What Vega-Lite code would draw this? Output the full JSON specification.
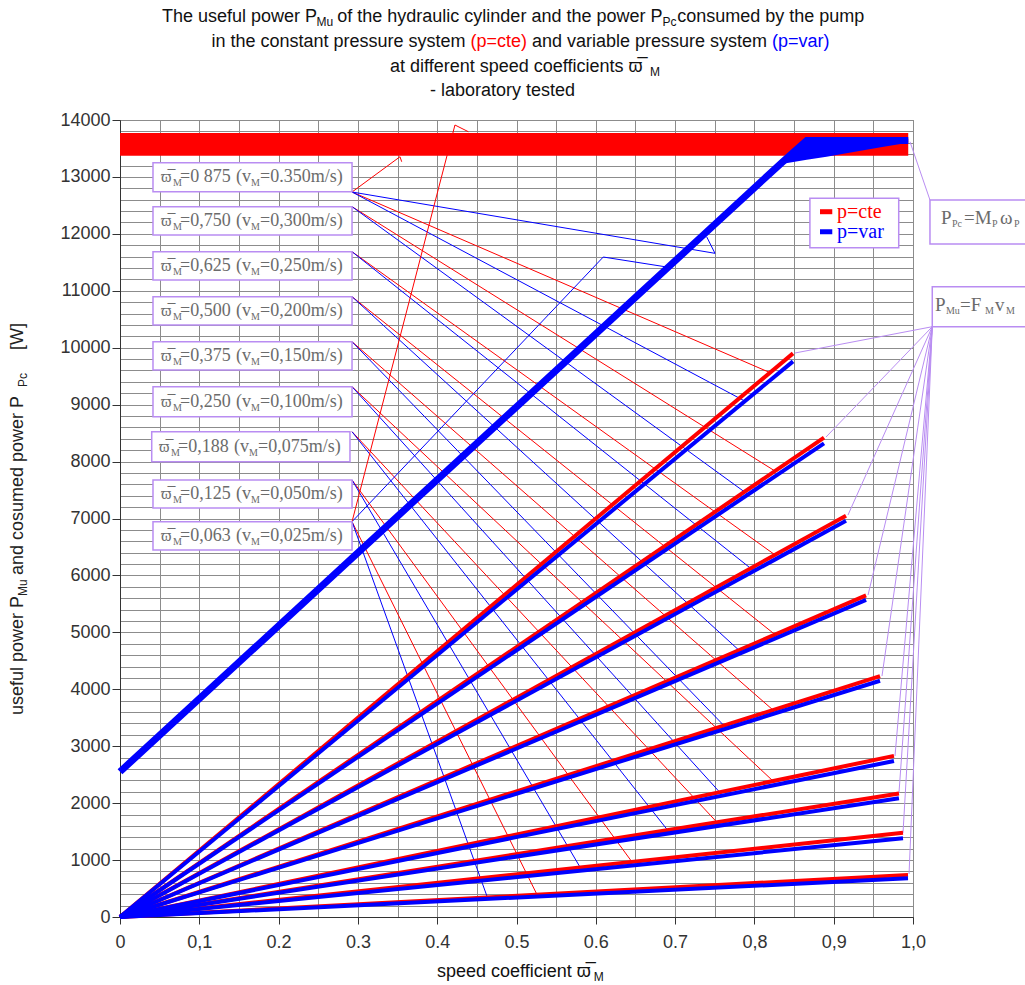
{
  "$schema": "https://vega.github.io/schema/vega-lite/v6.json",
  "width": 793,
  "height": 797,
  "autosize": {"type": "none"},
  "padding": {"left": 120, "top": 120, "right": 112, "bottom": 68},
  "background": "#ffffff",
  "config": {"view": {"stroke": "#6e6e6e", "strokeWidth": 1}},
  "datasets": {
    "band": [{"x": 0, "y": 13370, "y2": 13770}, {"x": 0.994, "y": 13370, "y2": 13770}],
    "bandgrid": [{"x": 0.05}, {"x": 0.1}, {"x": 0.15}, {"x": 0.2}, {"x": 0.25}, {"x": 0.3}, {"x": 0.35}, {"x": 0.4}, {"x": 0.45}, {"x": 0.5}, {"x": 0.55}, {"x": 0.6}, {"x": 0.65}, {"x": 0.7}, {"x": 0.75}, {"x": 0.8}, {"x": 0.85}, {"x": 0.9}, {"x": 0.95}],
    "thin": [
      {"id": "r1", "sys": "cte", "o": 0, "x": 0.2926, "y": 12735}, {"id": "r1", "sys": "cte", "o": 1, "x": 0.8197, "y": 9562},
      {"id": "b1", "sys": "var", "o": 0, "x": 0.2926, "y": 12735}, {"id": "b1", "sys": "var", "o": 1, "x": 0.788, "y": 9062},
      {"id": "r2", "sys": "cte", "o": 0, "x": 0.2926, "y": 12477}, {"id": "r2", "sys": "cte", "o": 1, "x": 0.826, "y": 7834},
      {"id": "b2", "sys": "var", "o": 0, "x": 0.2926, "y": 12477}, {"id": "b2", "sys": "var", "o": 1, "x": 0.792, "y": 7422},
      {"id": "r3", "sys": "cte", "o": 0, "x": 0.2926, "y": 11686}, {"id": "r3", "sys": "cte", "o": 1, "x": 0.826, "y": 6361},
      {"id": "b3", "sys": "var", "o": 0, "x": 0.2926, "y": 11686}, {"id": "b3", "sys": "var", "o": 1, "x": 0.7995, "y": 6078},
      {"id": "r4", "sys": "cte", "o": 0, "x": 0.2926, "y": 10896}, {"id": "r4", "sys": "cte", "o": 1, "x": 0.826, "y": 4961},
      {"id": "b4", "sys": "var", "o": 0, "x": 0.2926, "y": 10896}, {"id": "b4", "sys": "var", "o": 1, "x": 0.784, "y": 4642},
      {"id": "r5", "sys": "cte", "o": 0, "x": 0.2926, "y": 10105}, {"id": "r5", "sys": "cte", "o": 1, "x": 0.8235, "y": 3635},
      {"id": "b5", "sys": "var", "o": 0, "x": 0.2926, "y": 10105}, {"id": "b5", "sys": "var", "o": 1, "x": 0.765, "y": 3313},
      {"id": "r6", "sys": "cte", "o": 0, "x": 0.2926, "y": 9315}, {"id": "r6", "sys": "cte", "o": 1, "x": 0.8235, "y": 2388},
      {"id": "b6", "sys": "var", "o": 0, "x": 0.2926, "y": 9315}, {"id": "b6", "sys": "var", "o": 1, "x": 0.76, "y": 2134},
      {"id": "r7", "sys": "cte", "o": 0, "x": 0.2926, "y": 8524}, {"id": "r7", "sys": "cte", "o": 1, "x": 0.7528, "y": 1663},
      {"id": "b7", "sys": "var", "o": 0, "x": 0.2926, "y": 8524}, {"id": "b7", "sys": "var", "o": 1, "x": 0.6936, "y": 1472},
      {"id": "r8", "sys": "cte", "o": 0, "x": 0.2926, "y": 7676}, {"id": "r8", "sys": "cte", "o": 1, "x": 0.6456, "y": 968},
      {"id": "b8", "sys": "var", "o": 0, "x": 0.2926, "y": 7676}, {"id": "b8", "sys": "var", "o": 1, "x": 0.5826, "y": 817},
      {"id": "r9", "sys": "cte", "o": 0, "x": 0.2926, "y": 6944}, {"id": "r9", "sys": "cte", "o": 1, "x": 0.5259, "y": 392},
      {"id": "b9", "sys": "var", "o": 0, "x": 0.2926, "y": 6944}, {"id": "b9", "sys": "var", "o": 1, "x": 0.464, "y": 318},
      {"id": "e1", "sys": "cte", "o": 0, "x": 0.2926, "y": 12735}, {"id": "e1", "sys": "cte", "o": 1, "x": 0.3531, "y": 13355}, {"id": "e1", "sys": "cte", "o": 2, "x": 0.3552, "y": 13267},
      {"id": "e2", "sys": "var", "o": 0, "x": 0.2926, "y": 12735}, {"id": "e2", "sys": "var", "o": 1, "x": 0.7503, "y": 11658}, {"id": "e2", "sys": "var", "o": 2, "x": 0.7398, "y": 11949},
      {"id": "e3", "sys": "var", "o": 0, "x": 0.2926, "y": 6944}, {"id": "e3", "sys": "var", "o": 1, "x": 0.6094, "y": 11593}, {"id": "e3", "sys": "var", "o": 2, "x": 0.6894, "y": 11418},
      {"id": "e4", "sys": "cte", "o": 0, "x": 0.2926, "y": 6944}, {"id": "e4", "sys": "cte", "o": 1, "x": 0.4224, "y": 13912}, {"id": "e4", "sys": "cte", "o": 2, "x": 0.4393, "y": 13794},
      {"id": "n0", "sys": "note", "o": 0, "x": 1.0214, "y": 12594}, {"id": "n0", "sys": "note", "o": 1, "x": 0.9962, "y": 13618},
      {"id": "n1", "sys": "note", "o": 0, "x": 1.0243, "y": 10369}, {"id": "n1", "sys": "note", "o": 1, "x": 0.8512, "y": 9907},
      {"id": "n2", "sys": "note", "o": 0, "x": 1.0243, "y": 10369}, {"id": "n2", "sys": "note", "o": 1, "x": 0.8903, "y": 8431},
      {"id": "n3", "sys": "note", "o": 0, "x": 1.0243, "y": 10369}, {"id": "n3", "sys": "note", "o": 1, "x": 0.918, "y": 7061},
      {"id": "n4", "sys": "note", "o": 0, "x": 1.0243, "y": 10369}, {"id": "n4", "sys": "note", "o": 1, "x": 0.9433, "y": 5656},
      {"id": "n5", "sys": "note", "o": 0, "x": 1.0243, "y": 10369}, {"id": "n5", "sys": "note", "o": 1, "x": 0.9609, "y": 4233},
      {"id": "n6", "sys": "note", "o": 0, "x": 1.0243, "y": 10369}, {"id": "n6", "sys": "note", "o": 1, "x": 0.9773, "y": 2828},
      {"id": "n7", "sys": "note", "o": 0, "x": 1.0243, "y": 10369}, {"id": "n7", "sys": "note", "o": 1, "x": 0.9823, "y": 2178},
      {"id": "n8", "sys": "note", "o": 0, "x": 1.0243, "y": 10369}, {"id": "n8", "sys": "note", "o": 1, "x": 0.9874, "y": 1475},
      {"id": "n9", "sys": "note", "o": 0, "x": 1.0243, "y": 10369}, {"id": "n9", "sys": "note", "o": 1, "x": 0.995, "y": 755}
    ],
    "wedge": [
      {"x": 0.836, "y": 13230, "y2": 13300}, {"x": 0.866, "y": 13300, "y2": 13680}, {"x": 0.891, "y": 13355, "y2": 13680},
      {"x": 0.916, "y": 13414, "y2": 13680}, {"x": 0.963, "y": 13531, "y2": 13680}, {"x": 0.994, "y": 13601, "y2": 13670}
    ],
    "pcvar": [
      {"x": 0, "y": 2552}, {"x": 0.2926, "y": 6303}, {"x": 0.5, "y": 8962}, {"x": 0.731, "y": 11923},
      {"x": 0.836, "y": 13270}, {"x": 0.866, "y": 13640}, {"x": 0.994, "y": 13640}
    ],
    "mu": [
      {"k": "L1", "sys": "cte", "x": 0, "y": 0}, {"k": "L1", "sys": "cte", "x": 0.8487, "y": 9900},
      {"k": "L1", "sys": "var", "x": 0, "y": 0}, {"k": "L1", "sys": "var", "x": 0.8487, "y": 9760},
      {"k": "L2", "sys": "cte", "x": 0, "y": 0}, {"k": "L2", "sys": "cte", "x": 0.8878, "y": 8420},
      {"k": "L2", "sys": "var", "x": 0, "y": 0}, {"k": "L2", "sys": "var", "x": 0.8878, "y": 8320},
      {"k": "L3", "sys": "cte", "x": 0, "y": 0}, {"k": "L3", "sys": "cte", "x": 0.9155, "y": 7050},
      {"k": "L3", "sys": "var", "x": 0, "y": 0}, {"k": "L3", "sys": "var", "x": 0.9155, "y": 6960},
      {"k": "L4", "sys": "cte", "x": 0, "y": 0}, {"k": "L4", "sys": "cte", "x": 0.9408, "y": 5650},
      {"k": "L4", "sys": "var", "x": 0, "y": 0}, {"k": "L4", "sys": "var", "x": 0.9408, "y": 5570},
      {"k": "L5", "sys": "cte", "x": 0, "y": 0}, {"k": "L5", "sys": "cte", "x": 0.9584, "y": 4230},
      {"k": "L5", "sys": "var", "x": 0, "y": 0}, {"k": "L5", "sys": "var", "x": 0.9584, "y": 4150},
      {"k": "L6", "sys": "cte", "x": 0, "y": 0}, {"k": "L6", "sys": "cte", "x": 0.976, "y": 2830},
      {"k": "L6", "sys": "var", "x": 0, "y": 0}, {"k": "L6", "sys": "var", "x": 0.976, "y": 2740},
      {"k": "L7", "sys": "cte", "x": 0, "y": 0}, {"k": "L7", "sys": "cte", "x": 0.9823, "y": 2170},
      {"k": "L7", "sys": "var", "x": 0, "y": 0}, {"k": "L7", "sys": "var", "x": 0.9823, "y": 2085},
      {"k": "L8", "sys": "cte", "x": 0, "y": 0}, {"k": "L8", "sys": "cte", "x": 0.9874, "y": 1480},
      {"k": "L8", "sys": "var", "x": 0, "y": 0}, {"k": "L8", "sys": "var", "x": 0.9874, "y": 1385},
      {"k": "L9", "sys": "cte", "x": 0, "y": 0}, {"k": "L9", "sys": "cte", "x": 0.9937, "y": 740},
      {"k": "L9", "sys": "var", "x": 0, "y": 0}, {"k": "L9", "sys": "var", "x": 0.9937, "y": 680}
    ],
    "legseg": [
      {"k": "a", "sys": "cte", "x": 0.8827, "y": 12389}, {"k": "a", "sys": "cte", "x": 0.8982, "y": 12389},
      {"k": "b", "sys": "var", "x": 0.8827, "y": 12037}, {"k": "b", "sys": "var", "x": 0.8982, "y": 12037}
    ],
    "boxes": [
      {"x": 0.0416, "x2": 0.2926, "y": 13250, "y2": 12740},
      {"x": 0.0416, "x2": 0.2926, "y": 12477, "y2": 11980},
      {"x": 0.0416, "x2": 0.2926, "y": 11686, "y2": 11189},
      {"x": 0.0416, "x2": 0.2926, "y": 10896, "y2": 10399},
      {"x": 0.0416, "x2": 0.2926, "y": 10105, "y2": 9608},
      {"x": 0.0416, "x2": 0.2926, "y": 9315, "y2": 8788},
      {"x": 0.04, "x2": 0.29, "y": 8524, "y2": 7997},
      {"x": 0.0416, "x2": 0.2926, "y": 7676, "y2": 7185},
      {"x": 0.0416, "x2": 0.2926, "y": 6944, "y2": 6447},
      {"x": 0.87, "x2": 0.982, "y": 12624, "y2": 11757},
      {"x": 1.0214, "x2": 1.16, "y": 12594, "y2": 11822},
      {"x": 1.0243, "x2": 1.16, "y": 11072, "y2": 10369}
    ],
    "btext": [
      {"t": "\u03d6\u0305", "x": 0.0517, "y": 12995, "part": "sym"}, {"t": "M", "x": 0.0668, "y": 12995, "part": "sub"}, {"t": "=0 875", "x": 0.0757, "y": 12995, "part": "main"}, {"t": "(v", "x": 0.1463, "y": 12995, "part": "main"}, {"t": "M", "x": 0.1652, "y": 12995, "part": "sub"}, {"t": "=0.350m/s)", "x": 0.1766, "y": 12995, "part": "main"},
      {"t": "\u03d6\u0305", "x": 0.0517, "y": 12229, "part": "sym"}, {"t": "M", "x": 0.0668, "y": 12229, "part": "sub"}, {"t": "=0,750", "x": 0.0757, "y": 12229, "part": "main"}, {"t": "(v", "x": 0.1463, "y": 12229, "part": "main"}, {"t": "M", "x": 0.1652, "y": 12229, "part": "sub"}, {"t": "=0,300m/s)", "x": 0.1766, "y": 12229, "part": "main"},
      {"t": "\u03d6\u0305", "x": 0.0517, "y": 11438, "part": "sym"}, {"t": "M", "x": 0.0668, "y": 11438, "part": "sub"}, {"t": "=0,625", "x": 0.0757, "y": 11438, "part": "main"}, {"t": "(v", "x": 0.1463, "y": 11438, "part": "main"}, {"t": "M", "x": 0.1652, "y": 11438, "part": "sub"}, {"t": "=0,250m/s)", "x": 0.1766, "y": 11438, "part": "main"},
      {"t": "\u03d6\u0305", "x": 0.0517, "y": 10648, "part": "sym"}, {"t": "M", "x": 0.0668, "y": 10648, "part": "sub"}, {"t": "=0,500", "x": 0.0757, "y": 10648, "part": "main"}, {"t": "(v", "x": 0.1463, "y": 10648, "part": "main"}, {"t": "M", "x": 0.1652, "y": 10648, "part": "sub"}, {"t": "=0,200m/s)", "x": 0.1766, "y": 10648, "part": "main"},
      {"t": "\u03d6\u0305", "x": 0.0517, "y": 9857, "part": "sym"}, {"t": "M", "x": 0.0668, "y": 9857, "part": "sub"}, {"t": "=0,375", "x": 0.0757, "y": 9857, "part": "main"}, {"t": "(v", "x": 0.1463, "y": 9857, "part": "main"}, {"t": "M", "x": 0.1652, "y": 9857, "part": "sub"}, {"t": "=0,150m/s)", "x": 0.1766, "y": 9857, "part": "main"},
      {"t": "\u03d6\u0305", "x": 0.0517, "y": 9052, "part": "sym"}, {"t": "M", "x": 0.0668, "y": 9052, "part": "sub"}, {"t": "=0,250", "x": 0.0757, "y": 9052, "part": "main"}, {"t": "(v", "x": 0.1463, "y": 9052, "part": "main"}, {"t": "M", "x": 0.1652, "y": 9052, "part": "sub"}, {"t": "=0,100m/s)", "x": 0.1766, "y": 9052, "part": "main"},
      {"t": "\u03d6\u0305", "x": 0.0492, "y": 8261, "part": "sym"}, {"t": "M", "x": 0.0643, "y": 8261, "part": "sub"}, {"t": "=0,188", "x": 0.0732, "y": 8261, "part": "main"}, {"t": "(v", "x": 0.1438, "y": 8261, "part": "main"}, {"t": "M", "x": 0.1627, "y": 8261, "part": "sub"}, {"t": "=0,075m/s)", "x": 0.1741, "y": 8261, "part": "main"},
      {"t": "\u03d6\u0305", "x": 0.0517, "y": 7431, "part": "sym"}, {"t": "M", "x": 0.0668, "y": 7431, "part": "sub"}, {"t": "=0,125", "x": 0.0757, "y": 7431, "part": "main"}, {"t": "(v", "x": 0.1463, "y": 7431, "part": "main"}, {"t": "M", "x": 0.1652, "y": 7431, "part": "sub"}, {"t": "=0,050m/s)", "x": 0.1766, "y": 7431, "part": "main"},
      {"t": "\u03d6\u0305", "x": 0.0517, "y": 6696, "part": "sym"}, {"t": "M", "x": 0.0668, "y": 6696, "part": "sub"}, {"t": "=0,063", "x": 0.0757, "y": 6696, "part": "main"}, {"t": "(v", "x": 0.1463, "y": 6696, "part": "main"}, {"t": "M", "x": 0.1652, "y": 6696, "part": "sub"}, {"t": "=0,025m/s)", "x": 0.1766, "y": 6696, "part": "main"},
      {"t": "P", "x": 1.0353, "y": 12278, "part": "big"}, {"t": "Pc", "x": 1.0491, "y": 12278, "part": "sub"}, {"t": "=M", "x": 1.0643, "y": 12278, "part": "big"}, {"t": "P", "x": 1.0996, "y": 12278, "part": "sub"}, {"t": "\u03c9", "x": 1.1097, "y": 12278, "part": "big"}, {"t": "P", "x": 1.1274, "y": 12278, "part": "sub"},
      {"t": "P", "x": 1.0277, "y": 10750, "part": "big"}, {"t": "Mu", "x": 1.0415, "y": 10750, "part": "sub"}, {"t": "=F", "x": 1.0592, "y": 10750, "part": "big"}, {"t": "M", "x": 1.0908, "y": 10750, "part": "sub"}, {"t": "v", "x": 1.1034, "y": 10750, "part": "big"}, {"t": "M", "x": 1.1173, "y": 10750, "part": "sub"}
    ],
    "legtext": [
      {"t": "p=cte", "sys": "cte", "x": 0.9042, "y": 12389},
      {"t": "p=var", "sys": "var", "x": 0.9042, "y": 12037}
    ],
    "ttl": [
      {"t": "The useful power P", "x": 0.053, "y": 15809, "part": "main", "sys": "plain"},
      {"t": "Mu", "x": 0.2478, "y": 15809, "part": "sub", "sys": "plain"},
      {"t": "of the hydraulic cylinder and the power P", "x": 0.274, "y": 15809, "part": "main", "sys": "plain"},
      {"t": "Pc", "x": 0.6842, "y": 15809, "part": "sub", "sys": "plain"},
      {"t": "consumed by the pump", "x": 0.7026, "y": 15809, "part": "main", "sys": "plain"},
      {"t": "in the constant pressure system", "x": 0.1153, "y": 15370, "part": "main", "sys": "plain"},
      {"t": "(p=cte)", "x": 0.442, "y": 15370, "part": "main", "sys": "cte"},
      {"t": "and variable pressure system", "x": 0.5195, "y": 15370, "part": "main", "sys": "plain"},
      {"t": "(p=var)", "x": 0.8222, "y": 15370, "part": "main", "sys": "var"},
      {"t": "at different speed coefficients \u03d6\u0305", "x": 0.3405, "y": 14931, "part": "main", "sys": "plain"},
      {"t": "M", "x": 0.6683, "y": 14931, "part": "sub", "sys": "plain"},
      {"t": "- laboratory tested", "x": 0.3909, "y": 14509, "part": "main", "sys": "plain"},
      {"t": "speed coefficient \u03d6\u0305", "x": 0.3997, "y": -966, "part": "main", "sys": "plain"},
      {"t": "M", "x": 0.5975, "y": -966, "part": "sub", "sys": "plain"}
    ],
    "ytl": [
      {"t": "useful power P", "x": -0.1286, "y": 3548, "part": "main"},
      {"t": "Mu", "x": -0.1286, "y": 5638, "part": "sub"},
      {"t": "and cosumed power P", "x": -0.1286, "y": 6007, "part": "main"},
      {"t": "Pc", "x": -0.1286, "y": 9310, "part": "sub"},
      {"t": "[W]", "x": -0.1286, "y": 9960, "part": "main"}
    ]
  },
  "encoding": {
    "x": {
      "field": "x", "type": "quantitative", "title": null,
      "scale": {"domain": [0, 1], "nice": false, "zero": false},
      "axis": {
        "title": null,
        "values": [0, 0.05, 0.1, 0.15, 0.2, 0.25, 0.3, 0.35, 0.4, 0.45, 0.5, 0.55, 0.6, 0.65, 0.7, 0.75, 0.8, 0.85, 0.9, 0.95, 1],
        "grid": true, "gridColor": "#8c8c8c", "gridWidth": 1,
        "domainColor": "#333333", "domainWidth": 1,
        "tickColor": {"condition": {"test": "abs(datum.value*10-round(datum.value*10))<0.001", "value": "#333333"}, "value": "transparent"},
        "tickSize": 7,
        "labelExpr": "abs(datum.value)<0.001 ? '0' : abs(datum.value-0.1)<0.001 ? '0,1' : abs(datum.value-0.8)<0.001 ? '0,8' : abs(datum.value-0.9)<0.001 ? '0,9' : abs(datum.value-1)<0.001 ? '1,0' : abs(datum.value*10-round(datum.value*10))<0.001 ? format(datum.value,'.1f') : ''",
        "labelFont": "Liberation Sans", "labelFontSize": 18, "labelColor": "#333333",
        "labelPadding": 9, "labelFlush": false, "labelOverlap": false, "labelBound": false
      }
    },
    "y": {
      "field": "y", "type": "quantitative", "title": null,
      "scale": {"domain": [0, 14000], "nice": false, "zero": false},
      "axis": {
        "title": null,
        "values": [0, 200, 400, 600, 800, 1000, 1200, 1400, 1600, 1800, 2000, 2200, 2400, 2600, 2800, 3000, 3200, 3400, 3600, 3800, 4000, 4200, 4400, 4600, 4800, 5000, 5200, 5400, 5600, 5800, 6000, 6200, 6400, 6600, 6800, 7000, 7200, 7400, 7600, 7800, 8000, 8200, 8400, 8600, 8800, 9000, 9200, 9400, 9600, 9800, 10000, 10200, 10400, 10600, 10800, 11000, 11200, 11400, 11600, 11800, 12000, 12200, 12400, 12600, 12800, 13000, 13200, 13400, 13600, 13800, 14000],
        "grid": true, "gridColor": "#8c8c8c", "gridWidth": 1,
        "domainColor": "#333333", "domainWidth": 1,
        "tickColor": {"condition": {"test": "datum.value % 1000 === 0", "value": "#333333"}, "value": "transparent"},
        "tickSize": 8,
        "labelExpr": "datum.value % 1000 === 0 ? format(datum.value, 'd') : ''",
        "labelFont": "Liberation Sans", "labelFontSize": 18, "labelColor": "#333333",
        "labelPadding": 2, "labelFlush": false, "labelOverlap": false, "labelBound": false
      }
    }
  },
  "layer": [
    {"data": {"name": "band"}, "mark": {"type": "area", "color": "#ff0000", "opacity": 1}, "encoding": {"y2": {"field": "y2"}}},
    {"data": {"name": "bandgrid"}, "mark": {"type": "rule", "color": "#8c8c8c", "strokeWidth": 1}, "encoding": {"y": {"datum": 13370, "type": "quantitative"}, "y2": {"datum": 13770}}},
    {"data": {"name": "thin"}, "mark": {"type": "line", "strokeWidth": 1},
     "encoding": {"color": {"field": "sys", "type": "nominal", "scale": {"domain": ["cte", "var", "note", "plain"], "range": ["#ff0000", "#0000ff", "#b98df2", "#111111"]}, "legend": null}, "detail": {"field": "id"}, "order": {"field": "o"}}},
    {"data": {"name": "wedge"}, "mark": {"type": "area", "color": "#0000ff", "opacity": 1}, "encoding": {"y2": {"field": "y2"}}},
    {"data": {"name": "pcvar"}, "mark": {"type": "line", "color": "#0000ff", "strokeWidth": 7}, "encoding": {}},
    {"data": {"name": "mu"}, "transform": [{"filter": "datum.sys === 'cte'"}], "mark": {"type": "line", "color": "#ff0000", "strokeWidth": 4}, "encoding": {"detail": {"field": "k"}}},
    {"data": {"name": "mu"}, "transform": [{"filter": "datum.sys === 'var'"}], "mark": {"type": "line", "color": "#0000ff", "strokeWidth": 4}, "encoding": {"detail": {"field": "k"}}},
    {"data": {"name": "boxes"}, "mark": {"type": "rect", "fill": "#ffffff", "stroke": "#b98df2", "strokeWidth": 1.5}, "encoding": {"x2": {"field": "x2"}, "y2": {"field": "y2"}}},
    {"data": {"name": "legseg"}, "mark": {"type": "line", "strokeWidth": 5},
     "encoding": {"color": {"field": "sys", "type": "nominal", "scale": {"domain": ["cte", "var", "note", "plain"], "range": ["#ff0000", "#0000ff", "#b98df2", "#111111"]}, "legend": null}, "detail": {"field": "k"}}},
    {"data": {"name": "btext"}, "transform": [{"filter": "datum.part === 'main'"}], "mark": {"type": "text", "font": "Liberation Serif", "fontSize": 18, "color": "#6b6b6b", "align": "left", "baseline": "middle"}, "encoding": {"text": {"field": "t"}}},
    {"data": {"name": "btext"}, "transform": [{"filter": "datum.part === 'big'"}], "mark": {"type": "text", "font": "Liberation Serif", "fontSize": 19, "color": "#6b6b6b", "align": "left", "baseline": "middle"}, "encoding": {"text": {"field": "t"}}},
    {"data": {"name": "btext"}, "transform": [{"filter": "datum.part === 'sym'"}], "mark": {"type": "text", "font": "Liberation Serif", "fontSize": 16, "color": "#6b6b6b", "align": "left", "baseline": "middle"}, "encoding": {"text": {"field": "t"}}},
    {"data": {"name": "btext"}, "transform": [{"filter": "datum.part === 'sub'"}], "mark": {"type": "text", "font": "Liberation Serif", "fontSize": 10, "color": "#6b6b6b", "align": "left", "baseline": "middle", "dy": 6}, "encoding": {"text": {"field": "t"}}},
    {"data": {"name": "legtext"}, "mark": {"type": "text", "font": "Liberation Serif", "fontSize": 20, "align": "left", "baseline": "middle"},
     "encoding": {"text": {"field": "t"}, "color": {"field": "sys", "type": "nominal", "scale": {"domain": ["cte", "var", "note", "plain"], "range": ["#ff0000", "#0000ff", "#b98df2", "#111111"]}, "legend": null}}},
    {"data": {"name": "ttl"}, "transform": [{"filter": "datum.part === 'main'"}], "mark": {"type": "text", "font": "Liberation Sans", "fontSize": 18, "align": "left", "baseline": "middle"},
     "encoding": {"text": {"field": "t"}, "color": {"field": "sys", "type": "nominal", "scale": {"domain": ["cte", "var", "note", "plain"], "range": ["#ff0000", "#0000ff", "#b98df2", "#111111"]}, "legend": null}}},
    {"data": {"name": "ttl"}, "transform": [{"filter": "datum.part === 'sub'"}], "mark": {"type": "text", "font": "Liberation Sans", "fontSize": 12, "align": "left", "baseline": "middle", "dy": 5},
     "encoding": {"text": {"field": "t"}, "color": {"field": "sys", "type": "nominal", "scale": {"domain": ["cte", "var", "note", "plain"], "range": ["#ff0000", "#0000ff", "#b98df2", "#111111"]}, "legend": null}}},
    {"data": {"name": "ytl"}, "transform": [{"filter": "datum.part === 'main'"}], "mark": {"type": "text", "font": "Liberation Sans", "fontSize": 18, "color": "#222222", "angle": 270, "align": "left", "baseline": "middle"}, "encoding": {"text": {"field": "t"}}},
    {"data": {"name": "ytl"}, "transform": [{"filter": "datum.part === 'sub'"}], "mark": {"type": "text", "font": "Liberation Sans", "fontSize": 12, "color": "#222222", "angle": 270, "align": "left", "baseline": "middle", "dy": 5}, "encoding": {"text": {"field": "t"}}}
  ]
}
